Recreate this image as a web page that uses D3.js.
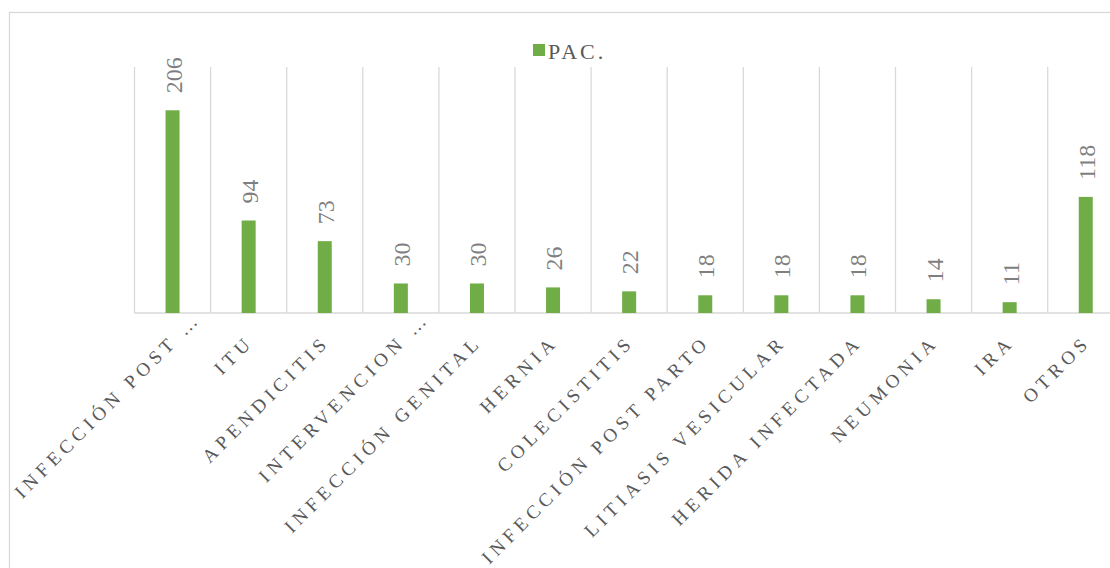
<!DOCTYPE html>
<html><head><meta charset="utf-8">
<script src="https://cdn.jsdelivr.net/npm/d3@7"></script>
<style>body{margin:0;background:#fff;}svg{display:block;}</style>
</head><body>
<svg id="chart" width="1110" height="568"></svg>
<script>
const categories = ["INFECCIÓN POST …","ITU","APENDICITIS","INTERVENCION …","INFECCIÓN GENITAL","HERNIA","COLECISTITIS","INFECCIÓN POST PARTO","LITIASIS VESICULAR","HERIDA INFECTADA","NEUMONIA","IRA","OTROS"];
const values = [206,94,73,30,30,26,22,18,18,18,14,11,118];
const seriesName = "PAC.";
const yDomain = [0, 250];

const FONT = "'Liberation Serif', Tinos, 'Times New Roman', 'DejaVu Serif', serif";
const svg = d3.select("#chart");
const W = 1110, H = 568;
svg.append("rect").attr("width", W).attr("height", H).attr("fill", "#fff");
svg.append("rect").attr("x", 9.5).attr("y", 12.5).attr("width", 1130).attr("height", 580)
  .attr("fill", "none").attr("stroke", "#d9d9d9").attr("stroke-width", 1.3);

const left = 134.5, step = 76.1;
const x = d3.scaleBand().domain(categories).range([left, left + step * categories.length]).padding(0);
const y = d3.scaleLinear().domain(yDomain).range([313, 67]);

const g = svg.append("g");
const edges = categories.map(c => x(c)).concat([x.range()[1]]);
g.selectAll("line.grid").data(edges).join("line")
  .attr("x1", d => d).attr("x2", d => d)
  .attr("y1", y(yDomain[1])).attr("y2", y(0))
  .attr("stroke", "#d9d9d9").attr("stroke-width", 1.3);
g.append("line").attr("x1", x.range()[0]).attr("x2", x.range()[1])
  .attr("y1", y(0)).attr("y2", y(0)).attr("stroke", "#d9d9d9").attr("stroke-width", 1.3);

const barW = x.bandwidth() * 0.184;
const cx = c => x(c) + x.bandwidth() / 2;
g.selectAll("rect.bar").data(categories).join("rect")
  .attr("x", c => cx(c) - barW / 2)
  .attr("y", (c, i) => y(values[i]))
  .attr("width", barW)
  .attr("height", (c, i) => y(0) - y(values[i]))
  .attr("fill", "#70ad47");

g.selectAll("text.val").data(categories).join("text")
  .attr("transform", (c, i) => `translate(${cx(c) + 9},${y(values[i]) - 17}) rotate(-90)`)
  .attr("text-anchor", "start")
  .style("font-family", FONT)
  .attr("font-size", 24).attr("fill", "#7f7f7f")
  .text((c, i) => values[i]);

// category labels: truncated labels keep their visible base anchored, the ellipsis overflows
const catSize = 19, catSpacing = 4.9;
const measure = svg.append("text").style("font-family", FONT)
  .attr("font-size", catSize).attr("letter-spacing", catSpacing).attr("opacity", 0);
const baseLen = s => { measure.text(s.replace(/\s*…$/, "")); return measure.node().getComputedTextLength(); };
const cats = g.selectAll("text.cat").data(categories).join("text")
  .attr("transform", c => `translate(${cx(c) + 6},${343}) rotate(-45)`)
  .attr("text-anchor", "start")
  .attr("x", c => -baseLen(c))
  .style("font-family", FONT)
  .attr("font-size", catSize).attr("letter-spacing", catSpacing).attr("fill", "#595959")
  .text(c => c);
measure.remove();

const lg = svg.append("g");
lg.append("rect").attr("x", 533).attr("y", 44).attr("width", 12).attr("height", 12).attr("fill", "#70ad47");
lg.append("text").attr("x", 548).attr("y", 59)
  .style("font-family", FONT)
  .attr("font-size", 22).attr("letter-spacing", 3).attr("fill", "#595959")
  .text(seriesName);
</script>
</body></html>
